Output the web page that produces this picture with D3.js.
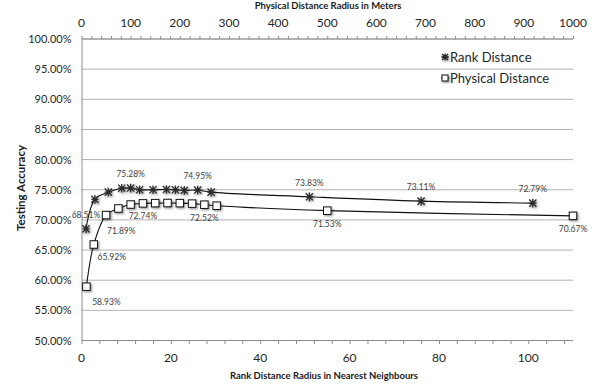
<!DOCTYPE html>
<html>
<head>
<meta charset="utf-8">
<script src="https://cdn.jsdelivr.net/npm/d3@7"></script>
<style>
  body { margin: 0; background: #fff; }
  svg { font-family: Lato, "Open Sans", sans-serif; }
</style>
</head>
<body>
<svg id="chart"></svg>
<script>
// rank distance series (bottom axis, nearest neighbours)
let rankX = [1, 3, 6, 9, 11, 13, 16, 19, 21, 23, 26, 29, 51, 76, 101];
let rankY = [68.51, 73.4, 74.6, 75.25, 75.28, 75.0, 75.0, 75.05, 75.0, 74.9, 74.95, 74.6, 73.83, 73.11, 72.79];
// physical distance series (top axis, meters)
let physX = [10, 25, 50, 75, 100, 125, 150, 175, 200, 225, 250, 275, 500, 1000];
let physY = [58.93, 65.92, 70.8, 71.89, 72.55, 72.74, 72.78, 72.8, 72.78, 72.7, 72.52, 72.35, 71.53, 70.67];

// which points carry a data label
let rankLabelIdx = [0, 4, 10, 12, 13, 14];
let physLabelIdx = [0, 1, 3, 5, 10, 12, 13];

let yTicks = [50, 55, 60, 65, 70, 75, 80, 85, 90, 95, 100];
let bottomTicks = [0, 20, 40, 60, 80, 100];
let topTicks = [0, 100, 200, 300, 400, 500, 600, 700, 800, 900, 1000];

let W = 599, H = 387;
let pL = 81.5, pR = 573, pT = 39, pB = 340.5;

let svg = d3.select("#chart").attr("width", W).attr("height", H);

// marker shadow
let defs = svg.append("defs");
defs.append("filter").attr("id", "sh")
  .attr("x", "-50%").attr("y", "-50%").attr("width", "200%").attr("height", "200%")
  .append("feDropShadow")
  .attr("dx", 1.2).attr("dy", 1.2).attr("stdDeviation", 0.9)
  .attr("flood-color", "#000").attr("flood-opacity", 0.45);

let y = d3.scaleLinear().domain([50, 100]).range([pB, pT]);
let xb = d3.scaleLinear().domain([0, 110]).range([pL, pR]);
let xt = d3.scaleLinear().domain([0, 1000]).range([pL, pR]);

// gridlines
svg.append("g").selectAll("line")
  .data(yTicks.slice(1))
  .enter().append("line")
  .attr("x1", pL).attr("x2", pR)
  .attr("y1", d => y(d)).attr("y2", d => y(d))
  .attr("stroke", "#b3b3b3").attr("stroke-width", 1);

// left axis
let yAxis = svg.append("g").attr("transform", `translate(${pL},0)`)
  .call(d3.axisLeft(y).tickValues(yTicks).tickSize(0).tickPadding(10)
    .tickFormat(d => d3.format(".2f")(d) + "%"));
yAxis.select(".domain").attr("stroke", "#8c8c8c");
yAxis.selectAll("text").attr("font-size", 11).attr("fill", "#262626")
  .attr("font-family", "Lato, 'Open Sans', sans-serif");

// bottom axis: minor ticks every 4
let bAxis = svg.append("g").attr("transform", `translate(0,${pB})`)
  .call(d3.axisBottom(xb).tickValues(d3.range(0, 111, 4)).tickSize(3.5).tickFormat(""));
bAxis.select(".domain").attr("stroke", "#8c8c8c").attr("d", `M${pL},0H${pR}`);
bAxis.selectAll("line").attr("stroke", "#8c8c8c");
svg.append("g").selectAll("text")
  .data(bottomTicks).enter().append("text")
  .attr("x", d => xb(d)).attr("y", 358).attr("dy", "0.35em")
  .attr("text-anchor", "middle").attr("font-size", 12).attr("fill", "#262626")
  .text(d => d);

// top axis: minor ticks every 20 m
let tAxis = svg.append("g").attr("transform", `translate(0,${pT})`)
  .call(d3.axisTop(xt).tickValues(d3.range(0, 1001, 20)).tickSize(3).tickFormat(""));
tAxis.select(".domain").attr("stroke", "#8c8c8c").attr("d", `M${pL},0H${pR}`);
tAxis.selectAll("line").attr("stroke", "#8c8c8c");
svg.append("g").selectAll("text")
  .data(topTicks).enter().append("text")
  .attr("x", d => xt(d)).attr("y", 23).attr("dy", "0.35em")
  .attr("text-anchor", "middle").attr("font-size", 12).attr("fill", "#262626")
  .text(d => d);

// axis titles
svg.append("text").attr("x", 328).attr("y", 6).attr("dy", "0.35em")
  .attr("text-anchor", "middle").attr("font-size", 9.5).attr("font-weight", "bold")
  .attr("fill", "#1a1a1a").text("Physical Distance Radius in Meters");
svg.append("text").attr("x", 324).attr("y", 376).attr("dy", "0.35em")
  .attr("text-anchor", "middle").attr("font-size", 9.5).attr("font-weight", "bold")
  .attr("fill", "#1a1a1a").text("Rank Distance Radius in Nearest Neighbours");
svg.append("text").attr("transform", "translate(21,188) rotate(-90)").attr("dy", "0.35em")
  .attr("text-anchor", "middle").attr("font-size", 11.5).attr("font-weight", "bold")
  .attr("fill", "#1a1a1a").text("Testing Accuracy");

// lines
let rankPts = rankX.map((d, i) => [xb(d), y(rankY[i])]);
let physPts = physX.map((d, i) => [xt(d), y(physY[i])]);
let line = d3.line().curve(d3.curveCatmullRom.alpha(0.5));

svg.append("path").attr("d", line(rankPts)).attr("fill", "none")
  .attr("stroke", "#111").attr("stroke-width", 1.1);
svg.append("path").attr("d", line(physPts)).attr("fill", "none")
  .attr("stroke", "#111").attr("stroke-width", 1.1);

function star(g, cx, cy, r) {
  let s = g.append("g").attr("transform", `translate(${cx},${cy})`).attr("filter", "url(#sh)");
  s.append("path")
    .attr("d", `M${-r},${-r}L${r},${r}M${-r},${r}L${r},${-r}M0,${-r * 1.2}L0,${r * 1.2}M${-r},0L${r},0`)
    .attr("stroke", "#2b2b2b").attr("stroke-width", 1.3).attr("fill", "none");
}
function square(g, cx, cy, s) {
  g.append("rect").attr("x", cx - s / 2).attr("y", cy - s / 2)
    .attr("width", s).attr("height", s)
    .attr("fill", "#fff").attr("stroke", "#111").attr("stroke-width", 1)
    .attr("filter", "url(#sh)");
}

let mk = svg.append("g");
rankPts.forEach(p => star(mk, p[0], p[1], 3.6));
physPts.forEach(p => square(mk, p[0], p[1], 7.5));

// data labels
let fmt = v => d3.format(".2f")(v) + "%";
let physOff = { 0: [20, 15], 1: [18, 13], 3: [3, 23] };
let lab = svg.append("g").attr("font-size", 8.5).attr("fill", "#404040");
rankLabelIdx.forEach(i => {
  lab.append("text").attr("x", rankPts[i][0]).attr("y", rankPts[i][1] - 14)
    .attr("dy", "0.35em").attr("text-anchor", "middle").text(fmt(rankY[i]));
});
physLabelIdx.forEach(i => {
  let o = physOff[i] || [0, 13];
  lab.append("text").attr("x", physPts[i][0] + o[0]).attr("y", physPts[i][1] + o[1])
    .attr("dy", "0.35em").attr("text-anchor", "middle").text(fmt(physY[i]));
});

// legend
let leg = svg.append("g");
let legItems = ["Rank Distance", "Physical Distance"];
legItems.forEach((name, i) => {
  let ly = 57 + i * 21;
  leg.append("line").attr("x1", 441).attr("x2", 449).attr("y1", ly).attr("y2", ly)
    .attr("stroke", "#111").attr("stroke-width", 1);
  if (i == 0) star(leg, 445, ly, 3);
  else square(leg, 445, ly, 6);
  leg.append("text").attr("x", 450).attr("y", ly).attr("dy", "0.35em")
    .attr("font-size", 13).attr("fill", "#262626").text(name);
});
</script>
</body>
</html>
